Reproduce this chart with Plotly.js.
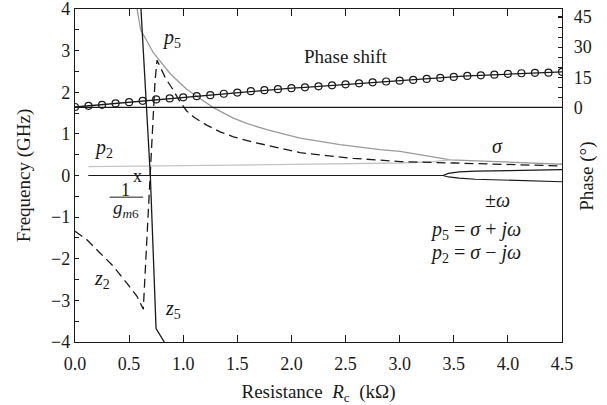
<!DOCTYPE html>
<html><head><meta charset="utf-8">
<script src="https://cdn.plot.ly/plotly-3.0.1.min.js"></script>
<style>html,body{margin:0;padding:0;background:#fff}</style>
</head><body><div id="chart" style="width:607px;height:405px"></div>
<script>
// Phase shift (degrees, right axis) vs resistance (kOhm)
const phaseR = [0,0.125,0.25,0.375,0.5,0.625,0.75,0.875,1,1.125,1.25,1.375,1.5,1.625,1.75,1.875,2,2.125,2.25,2.375,2.5,2.625,2.75,2.875,3,3.125,3.25,3.375,3.5,3.625,3.75,3.875,4,4.125,4.25,4.375,4.5];
const phaseDeg = [0.2,0.8,1.3,2.0,2.6,3.3,4.0,4.5,5.0,5.6,6.1,6.8,7.4,8.1,8.6,9.1,9.6,10.0,10.5,11.0,11.5,12.0,12.5,12.9,13.3,13.7,14.2,14.7,15.2,15.7,16.0,16.3,16.7,17.0,17.2,17.3,17.7];
const refR = [0, 4.5];
const refPhase = [0, 0];

// p5 (real) then sigma after the poles become complex
const p5R = [0.54,0.57,0.607,0.724,0.878,0.97,1.032,1.155,1.278,1.463,1.587,1.772,2.079,2.449,2.819,3.004,3.2,3.47,4.5];
const p5F = [4.5,4.0,3.5,2.95,2.45,2.22,2.07,1.85,1.63,1.38,1.25,1.10,0.90,0.74,0.62,0.58,0.49,0.375,0.27];
// p2 (real)
const p2R = [0.125,1.0,2.0,3.0,3.3,3.47];
const p2F = [0.215,0.235,0.265,0.30,0.33,0.375];
// +omega / -omega
const omegaR = [0.125,3.40,3.45,3.55,3.7,4.0,4.5];
const omegaUp = [0,0,0.05,0.085,0.105,0.12,0.14];
const omegaDown = [0,0,-0.035,-0.065,-0.09,-0.115,-0.15];
// dashed zero trajectory (z2 branch)
const zR = [0,0.108,0.231,0.354,0.477,0.570,0.631,0.694,0.724,0.739,0.758,0.80,0.838,0.909,0.97,1.032,1.10,1.155,1.217,1.34,1.463,1.648,1.864,2.079,2.326,2.572,2.819,3.004,3.5,4.0,4.5];
const zF = [-1.34,-1.54,-1.86,-2.18,-2.58,-2.89,-3.21,0.0,1.53,2.25,2.77,2.55,2.33,2.05,1.77,1.55,1.40,1.31,1.21,1.05,0.93,0.80,0.67,0.55,0.478,0.41,0.37,0.335,0.30,0.265,0.23];
// solid steep trajectory (z5 branch)
const z5R = [0.603,0.663,0.696,0.749,0.832,0.86];
const z5F = [4.3,1.53,0.0,-3.68,-4.02,-4.15];

const serif = 'Liberation Serif, DejaVu Serif, serif';
const ink = '#1a1a1a';

const traces = [
  {x: p5R, y: p5F, mode: 'lines', line: {color: '#9a9a9a', width: 1.3}, hoverinfo: 'skip'},
  {x: p2R, y: p2F, mode: 'lines', line: {color: '#c4c4c4', width: 1.3}, hoverinfo: 'skip'},
  {x: omegaR, y: omegaUp, mode: 'lines', line: {color: ink, width: 1.2}, hoverinfo: 'skip'},
  {x: omegaR, y: omegaDown, mode: 'lines', line: {color: ink, width: 1.2}, hoverinfo: 'skip'},
  {x: zR, y: zF, mode: 'lines', line: {color: ink, width: 1.3, dash: '9px,5px'}, hoverinfo: 'skip'},
  {x: z5R, y: z5F, mode: 'lines', line: {color: ink, width: 1.3}, hoverinfo: 'skip'},
  {x: refR, y: refPhase, yaxis: 'y2', mode: 'lines', line: {color: ink, width: 1.2}, hoverinfo: 'skip'},
  {x: phaseR, y: phaseDeg, yaxis: 'y2', mode: 'lines+markers', line: {color: ink, width: 1.3},
   marker: {symbol: 'circle-open', size: 7, color: ink, line: {width: 1.2, color: ink}}, hoverinfo: 'skip'}
];

function ann(x, y, text, size, extra) {
  return Object.assign({x: x, y: y, xref: 'x', yref: 'y', text: text, showarrow: false,
    xanchor: 'center', yanchor: 'middle', font: {family: serif, size: size || 19, color: ink}}, extra || {});
}

const layout = {
  width: 607, height: 405,
  margin: {l: 75, r: 45, t: 9, b: 63, pad: 0},
  paper_bgcolor: '#fff', plot_bgcolor: '#fff',
  showlegend: false,
  font: {family: serif, size: 19, color: ink},
  xaxis: {
    range: [0, 4.5], tick0: 0, dtick: 0.5, tickformat: '.1f',
    ticks: 'inside', ticklen: 7, tickwidth: 1.1, tickcolor: ink,
    showline: true, linecolor: ink, linewidth: 1.2, mirror: 'ticks',
    showgrid: false, zeroline: false, ticklabelstandoff: 5,
    tickfont: {family: serif, size: 18, color: ink},
    title: {text: 'Resistance  <i>R</i><sub>c</sub>  (kΩ)', font: {family: serif, size: 19, color: ink}, standoff: 13}
  },
  yaxis: {
    range: [-4, 4], tick0: 0, dtick: 1,
    ticks: 'inside', ticklen: 4, tickwidth: 1.1, tickcolor: ink,
    minor: {dtick: 0.5, ticks: 'inside', ticklen: 4, tickcolor: ink, tickwidth: 1.1},
    showline: true, linecolor: ink, linewidth: 1.2,
    showgrid: false, zeroline: false, ticklabeloverflow: 'allow',
    tickfont: {family: serif, size: 18, color: ink},
    title: {text: 'Frequency (GHz)', font: {family: serif, size: 19, color: ink}, standoff: 15}
  },
  yaxis2: {
    overlaying: 'y', side: 'right', range: [-116.8, 49],
    tickvals: [0, 15, 30, 45],
    ticks: 'inside', ticklen: 4, tickwidth: 1.1, tickcolor: ink,
    minor: {tickmode: 'array', tickvals: [5, 10, 20, 25, 35, 40], ticks: 'inside', ticklen: 4, tickcolor: ink, tickwidth: 1.1},
    showline: true, linecolor: ink, linewidth: 1.2,
    showgrid: false, zeroline: false, ticklabelstandoff: 7, ticklabeloverflow: 'allow',
    tickfont: {family: serif, size: 18, color: ink}
  },
  shapes: [
    {type: 'line', xref: 'x', yref: 'y', x0: 0.32, x1: 0.63, y0: -0.52, y1: -0.52, line: {color: ink, width: 1}}
  ],
  annotations: [
    {x: 1.051, y: 0.4985, xref: 'paper', yref: 'paper', text: 'Phase (°)', textangle: -90, showarrow: false,
     xanchor: 'center', yanchor: 'middle', font: {family: serif, size: 19, color: ink}},
    ann(0.896, 3.30, '<i>p</i><sub>5</sub>', 20),
    ann(2.505, 2.87, 'Phase shift', 19),
    ann(0.259, 0.646, '<i>p</i><sub>2</sub>', 20),
    ann(3.90, 0.72, '<i>σ</i>', 20),
    ann(3.90, -0.60, '±<i>ω</i>', 20),
    ann(3.697, -1.32, '<i>p</i><sub>5</sub> = <i>σ</i> + <i>jω</i>', 20),
    ann(3.697, -1.87, '<i>p</i><sub>2</sub> = <i>σ</i> − <i>jω</i>', 20),
    ann(0.573, 0.0, 'x', 18),
    ann(0.471, -0.36, '1', 18),
    ann(0.471, -0.80, '<i>g</i><sub><i>m</i>6</sub>', 19),
    ann(0.25, -2.51, '<i>z</i><sub>2</sub>', 20),
    ann(0.906, -3.23, '<i>z</i><sub>5</sub>', 20)
  ]
};

Plotly.newPlot('chart', traces, layout, {displayModeBar: false, staticPlot: true});
</script></body></html>
